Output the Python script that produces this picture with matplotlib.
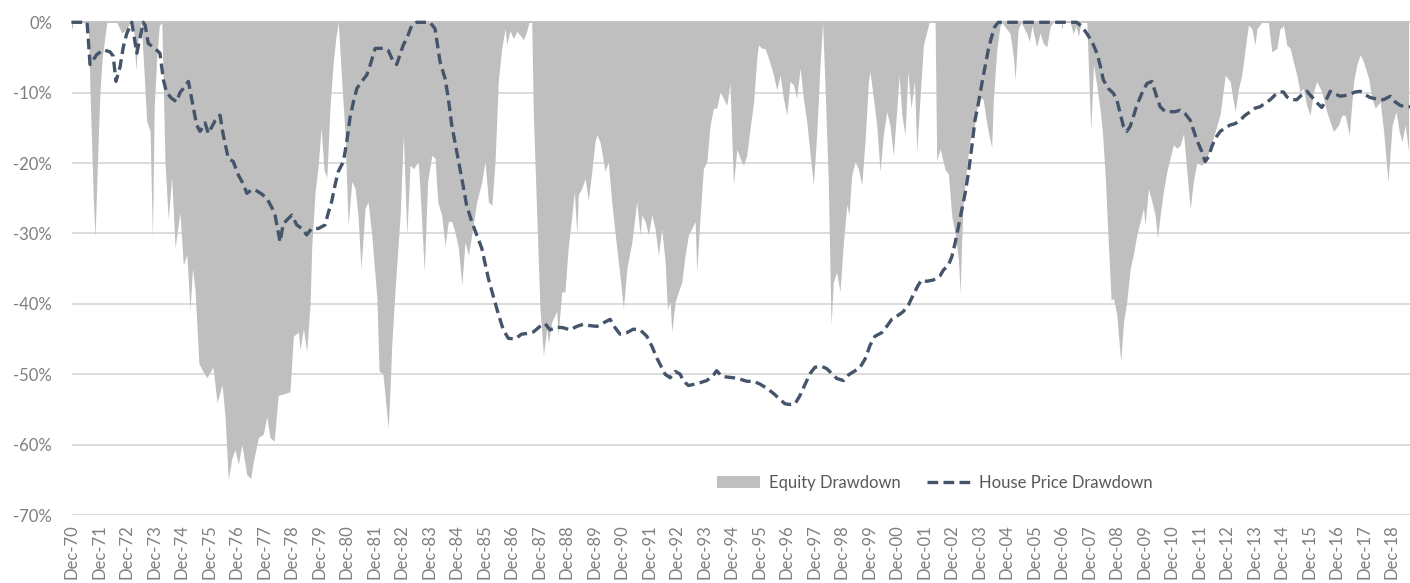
import matplotlib
matplotlib.use("Agg")
import matplotlib.pyplot as plt
from matplotlib.patches import Patch
from matplotlib.lines import Line2D

# x = months since Dec-1970, y = drawdown in %
eq_month = [0, 7.3, 8.1, 9.5, 10.3, 11.3, 12.4, 13.4, 14.6, 15.4, 19.7, 21.9, 24.1, 25.5, 27.0, 28.1, 29.1, 30.3,
            31.3, 32.8, 34.3, 35.3, 36.1, 37.2, 38.3, 39.4, 40.8, 42.2, 43.7, 45.2, 47.3, 48.8, 50.3, 51.7, 52.8,
            53.9, 55.6, 57.4, 59.1, 61.7, 63.5, 65.7, 67.0, 68.4, 69.9, 71.3, 72.8, 74.3, 76.5, 78.2, 79.3, 81.5,
            83.7, 85.2, 86.6, 88.4, 90.2, 92.4, 95.3, 96.8, 99.0, 99.7, 101.2, 102.6, 104.1, 104.8, 106.3, 107.6,
            108.9, 110.2, 111.4, 112.8, 114.1, 115.4, 116.4, 117.9, 119.3, 120.7, 122.3, 123.7, 125.0, 126.3,
            128.1, 129.4, 131.0, 133.2, 134.2, 135.9, 138.2, 139.0, 139.7, 141.2, 143.4, 144.8, 146.3, 147.7,
            149.2, 151.3, 152.5, 153.9, 155.4, 157.2, 158.6, 159.8, 161.5, 163.0, 164.4, 165.9, 167.3, 168.8,
            170.3, 171.7, 173.2, 174.6, 176.8, 179.0, 180.4, 181.9, 183.4, 184.8, 186.2, 187.7, 189.2, 189.9,
            191.3, 192.8, 194.3, 195.7, 197.2, 198.6, 199.6, 200.8, 201.5, 203.0, 204.4, 205.9, 207.4, 208.1,
            209.5, 211.7, 212.3, 213.9, 215.3, 216.7, 218.3, 219.4, 220.5, 221.1, 222.6, 224.1, 225.5, 227.0,
            228.4, 229.2, 230.6, 232.1, 232.8, 234.2, 235.7, 237.9, 239.3, 240.8, 242.3, 244.5, 246.6, 248.1,
            248.8, 250.3, 251.7, 253.2, 254.6, 256.1, 257.5, 259.0, 260.0, 261.2, 261.9, 263.4, 264.8, 266.3,
            267.7, 269.2, 270.6, 272.1, 272.8, 274.3, 275.7, 277.2, 278.6, 280.1, 281.5, 283.0, 284.4, 285.9,
            287.3, 288.8, 290.3, 291.7, 293.2, 294.6, 296.1, 297.6, 299.0, 299.7, 301.2, 302.6, 304.1, 306.3,
            307.7, 309.2, 310.6, 312.1, 313.5, 315.0, 316.4, 317.9, 319.3, 320.8, 322.3, 323.7, 325.2, 326.6,
            327.7, 328.7, 330.2, 331.4, 332.4, 333.8, 335.3, 336.8, 338.3, 339.2, 340.4, 341.9, 343.3, 344.8,
            346.2, 347.7, 348.4, 349.9, 351.3, 352.8, 354.2, 355.7, 357.1, 358.6, 360.1, 361.1, 362.3, 363.7,
            364.9, 366.3, 367.8, 368.8, 370.2, 371.7, 373.2, 374.2, 376.8, 377.5, 379.0, 381.2, 382.6, 384.1,
            385.5, 387.0, 387.7, 388.4, 389.1, 390.6, 392.0, 393.5, 394.9, 396.4, 397.8, 399.3, 400.7, 401.5,
            402.2, 403.7, 405.1, 405.9, 409.5, 411.0, 411.7, 413.0, 414.3, 416.8, 417.9, 419.1, 421.1, 422.6,
            424.0, 425.5, 427.0, 428.3, 435.7, 437.1, 438.3, 439.3, 440.5, 443.0, 443.7, 444.7, 445.9, 447.4,
            448.8, 449.8, 451.0, 452.4, 453.6, 454.6, 456.1, 456.8, 457.8, 459.0, 460.4, 461.9, 463.3, 464.8,
            466.3, 467.7, 468.4, 469.9, 471.4, 472.8, 473.8, 475.0, 476.4, 477.9, 479.3, 480.8, 482.2, 483.7,
            485.2, 486.6, 488.1, 489.5, 491.0, 493.2, 495.4, 496.8, 499.0, 501.2, 503.4, 505.5, 507.7, 509.2,
            510.6, 512.1, 513.5, 515.0, 516.4, 517.2, 519.3, 522.2, 523.7, 525.9, 527.3, 528.8, 530.2, 531.7,
            533.1, 534.6, 536.0, 537.5, 538.9, 540.4, 541.9, 543.3, 545.5, 547.7, 549.1, 550.6, 552.8, 554.3,
            555.7, 557.5, 559.4, 560.8, 562.3, 563.7, 565.9, 567.4, 568.8, 571.0, 572.5, 574.4, 576.2, 577.9,
            579.3, 580.5, 581.9, 583.4]
eq_drawdown = [0, 0, -10, -25, -30.5, -20, -10, -5, -2, 0, 0, -1.5, -1, 0, 0, -6.8, -2, 0,
               -5, -14, -15.5, -30.7, -12, -5, -0.5, 0, -19.8, -28, -22, -32, -27, -34.5, -33, -40.8, -35,
               -38, -48.5, -49.6, -50.5, -49, -54, -51.5, -56, -65, -62, -60.7, -62.8, -60, -64.3, -64.8, -62.5, -59,
               -58.5, -56, -59, -59.5, -53, -52.8, -52.5, -44.6, -44, -46.5, -43.5, -46.8, -40, -32, -24, -20.5,
               -15, -21, -22, -12, -6, -2, 0, -8.4, -15.5, -28.8, -22.6, -23.6, -27.4, -35,
               -26.4, -25.5, -30.2, -39, -49.5, -50, -57.7, -52, -46, -37.8, -27.4, -16, -30.2, -20.3,
               -20.8, -19.8, -26.4, -35.4, -22.6, -18.9, -19.3, -25.5, -27.4, -31.7, -28.3, -28.3, -29.8, -32.1,
               -37.3, -31.2, -33.1, -30.2, -25.5, -22.7, -19.8, -25.5, -26, -19.8, -8.4, -3.7, -0.9, -3.2,
               -1.2, -2.3, -1.3, -1.8, -2.5, -1.3, 0, 0, -13, -27.4, -40.7, -47.3, -43.5, -45.6,
               -42.6, -41, -44.5, -38.3, -38.3, -32.1, -27.4, -24.1, -30.2, -24.5, -23.6, -22.2, -25.3, -21.2,
               -17, -16, -17, -19.8, -21.2, -19.8, -25.5, -32.1, -36, -40.7, -35, -31.2, -25.5, -30.2,
               -27.4, -28.3, -30.2, -27.4, -29.3, -33.1, -29.3, -34, -40.7, -39.7, -44, -39.7, -38.3, -36.9,
               -33.1, -30.2, -29.3, -28.3, -35.5, -27.4, -20.8, -19.8, -14.6, -12.2, -12.2, -9.9, -10.8, -11.8,
               -8.7, -23.1, -18, -19.3, -20.3, -18.9, -15, -11.3, -5.1, -3.2, -3.7, -3.7, -5.1, -7.5,
               -9.6, -7.5, -10.8, -13.2, -8.4, -8.9, -10.8, -6.5, -10.8, -14.1, -18.9, -23.1, -15.5, -6,
               0, -8.4, -22.7, -43, -36.9, -35.5, -38.3, -31.2, -25.9, -27.4, -21.7, -19.8, -20.8, -23.1,
               -17, -8.4, -7, -10.8, -14.6, -21.2, -16, -12.7, -14.6, -18.9, -12.2, -7.5, -13.2, -16,
               -7, -12.2, -8.4, -18.4, -10.8, -3.2, -1.3, 0, 0, -19.6, -18, -21, -21.5, -27.6,
               -30, -33.8, -38.5, -31, -25.3, -20.5, -16.7, -15.8, -12.5, -10.6, -11, -14.3, -16.7, -17.7,
               -11, -3.9, -0.6, 0, -1.6, -5, -8.2, -1, 0, -1.6, -2.7, -0.5, -3.5, -1.5,
               -3, -3.5, -0.6, 0, 0, -1.6, -0.5, -2, 0, 0, -6.3, -15.4, -6, -9.1,
               -12.5, -15.5, -21.7, -31.5, -39.5, -39.2, -41.6, -44.5, -48.2, -42.6, -39.7, -35, -33, -30.2,
               -28.3, -26.4, -28.8, -23.6, -25.5, -27.4, -30.7, -27.4, -24, -21.2, -19.3, -17.4, -17.9, -17.5,
               -15.8, -21, -26.5, -22.5, -20, -20.3, -19.3, -17.8, -15.5, -13, -7.5, -8.4, -12.7, -9.4,
               -7.5, -3.7, -0.4, -0.9, -3.2, -0.9, 0, 0, -4.2, -3.7, -0.9, -0.4, -3.2, -3.7,
               -5.6, -7.5, -9.9, -9.4, -11.8, -13.2, -9.9, -8.4, -9.9, -12.7, -14.1, -15.5, -14.6, -13.2,
               -13.2, -16, -8.4, -6, -4.6, -5.6, -7.9, -10.8, -12.2, -11.3, -15.5, -22.7, -14.6, -12.7,
               -15.5, -17, -14.6, -18.4]

hp_month = [0, 5.1, 6.8, 8.1, 11.0, 13.9, 16.8, 18.2, 19.4, 21.2, 22.6, 24.1, 26.3, 28.5, 29.9, 31.3, 32.1,
            33.5, 36.4, 38.6, 40.1, 41.5, 43.7, 45.9, 47.3, 48.8, 51.0, 52.5, 54.6, 56.1, 58.3, 59.7, 62.6,
            64.8, 66.2, 68.4, 70.6, 72.8, 75.0, 76.5, 78.6, 80.1, 83.0, 85.2, 87.4, 88.8, 91.0, 92.4, 96.1,
            98.3, 100.5, 102.6, 104.8, 107.7, 110.6, 112.1, 113.5, 115.0, 116.4, 118.6, 120.1, 121.5, 123.0,
            124.5, 126.6, 128.8, 130.3, 132.5, 134.6, 136.1, 138.2, 140.4, 141.9, 143.3, 144.8, 146.3, 148.5,
            150.6, 156.4, 158.6, 160.8, 163.0, 164.4, 165.9, 168.1, 170.3, 172.4, 174.6, 176.8, 179.0, 181.9,
            184.1, 186.2, 188.4, 190.6, 193.5, 196.4, 199.3, 201.5, 204.4, 206.6, 208.8, 211.7, 214.6, 217.5,
            220.5, 223.3, 226.3, 229.2, 232.1, 235.0, 237.2, 239.3, 242.3, 245.1, 248.1, 251.0, 253.2, 255.4,
            256.8, 259.0, 261.2, 263.4, 265.6, 267.0, 269.2, 272.1, 274.3, 277.2, 280.1, 281.5, 283.7, 285.9,
            288.8, 291.7, 294.6, 297.5, 300.4, 303.4, 306.2, 309.2, 311.3, 313.5, 315.7, 317.9, 320.1, 322.3,
            324.4, 327.4, 329.5, 331.7, 333.9, 336.8, 339.0, 341.9, 344.1, 346.3, 348.4, 350.6, 353.5, 355.7,
            357.9, 360.8, 362.9, 365.1, 367.3, 369.5, 371.0, 373.2, 376.1, 379.0, 380.4, 382.6, 384.1, 385.5,
            387.0, 388.4, 389.9, 391.3, 392.8, 394.2, 395.7, 397.2, 398.6, 400.0, 401.5, 402.9, 404.4, 438.6,
            440.8, 443.0, 445.2, 447.4, 448.8, 450.2, 452.4, 454.6, 456.1, 457.5, 459.0, 460.4, 461.9, 463.3,
            464.8, 467.0, 469.2, 471.4, 473.5, 475.0, 477.2, 479.3, 481.5, 483.7, 485.9, 488.1, 489.5, 491.0,
            493.2, 494.6, 496.1, 497.5, 499.0, 501.2, 503.4, 505.5, 507.7, 509.9, 512.1, 514.3, 516.4, 518.6,
            520.8, 523.0, 525.2, 527.3, 528.8, 530.3, 532.4, 534.6, 536.8, 539.0, 541.2, 543.3, 545.5, 547.0,
            549.2, 551.4, 553.6, 555.7, 557.9, 560.1, 562.3, 564.5, 566.7, 569.6, 572.4, 575.4, 577.5, 579.7,
            581.9, 584.1]
hp_drawdown = [0, 0, 0, -6, -4.6, -3.9, -4.2, -4.8, -8.4, -6.3, -3.5, -1.6, 0, -4.4, -2.2, 0, -0.4,
               -3, -3.7, -4.4, -8.2, -10, -10.8, -11.3, -10, -9.4, -8.4, -11, -14.6, -15.5, -14.3, -15.8, -14,
               -13.2, -16, -19.3, -19.8, -21.7, -23, -24.3, -23.8, -23.8, -24.4, -25, -26.3, -27.4, -31.2, -28.6, -27.4,
               -28.8, -29.3, -30.2, -29.3, -29.3, -28.8, -27, -25.5, -23.1, -21.2, -19.8, -17, -13.6, -11.3,
               -9.4, -8.4, -7.5, -6.1, -3.7, -3.7, -3.7, -4, -5.6, -6, -4.6, -3.2, -2.3, -0.4,
               0, 0, -0.9, -5.6, -8, -10.8, -14.6, -18.4, -22.2, -26, -28.3, -30.2, -32.1, -36.4,
               -39, -41.4, -43.7, -44.9, -45, -44.3, -44.2, -44, -43.2, -42.8, -43.7, -43.3, -43.4, -43.7,
               -43.2, -42.9, -43.1, -43.2, -42.7, -42.2, -43.4, -44.3, -44.1, -43.6, -43.7, -44.6, -46, -47.7,
               -48.6, -50, -50.5, -49.6, -50, -51, -51.6, -51.4, -51.2, -50.9, -50.1, -49.5, -50.3, -50.4,
               -50.5, -50.7, -51, -51, -51.4, -52, -52.7, -53.6, -54.2, -54.3, -54.2, -53, -51.4, -49.9,
               -49, -48.9, -49.2, -49.9, -50.6, -50.9, -50.1, -49.5, -49, -47.8, -45.9, -44.6, -44.1, -43.2,
               -42.2, -41.6, -41.1, -40.2, -38.7, -37.3, -36.6, -36.8, -36.6, -36, -35.2, -34.5, -33.3, -31.4,
               -29, -26.7, -24.3, -21.5, -17.7, -13.9, -11.5, -8.7, -6.3, -3.9, -2, -0.6, 0, 0,
               -0.6, -1.6, -2.7, -4.4, -6.1, -8.2, -9.4, -10.1, -11, -12.9, -14.8, -15.5, -14.8, -13.4,
               -11.8, -10.1, -8.7, -8.4, -10.6, -12, -12.7, -12.7, -12.7, -12.5, -13, -13.9, -15.3, -16.7,
               -18.4, -19.8, -19.1, -17.7, -16.5, -15.5, -15, -14.6, -14.4, -13.9, -13.2, -12.7, -12.2, -12,
               -11.5, -11, -10.3, -9.9, -9.9, -10.6, -11, -11, -10.3, -9.8, -10.6, -11.4, -12.1, -11.3,
               -9.8, -10.2, -10.5, -10.4, -10.2, -9.9, -9.8, -10.3, -10.7, -10.9, -11, -10.5, -11.3, -11.8,
               -12, -12]

tick_months = list(range(0, 577, 12))
tick_labels = [f"Dec-{(70 + i) % 100:02d}" for i in range(len(tick_months))]
y_ticks = list(range(-70, 1, 10))
y_labels = [f"{v}%" for v in y_ticks]

FONT = ["Lato", "DejaVu Sans"]
plt.rcParams['font.family'] = FONT

W, H = 1410, 583
fig = plt.figure(figsize=(W / 100, H / 100), dpi=100)
x0, x1, ytop, ybot = 71.5, 1410, 22.3, 515
ax = fig.add_axes([x0 / W, 1 - ybot / H, (x1 - x0) / W, (ybot - ytop) / H])

ax.set_xlim(0, 584)
ax.set_ylim(-70, 0)

for v in y_ticks[:-1]:
    ax.axhline(v, color="#d9d9d9", lw=1.3, zorder=0)

ax.fill_between(eq_month, eq_drawdown, 0, color="#bfbfbf", lw=0, zorder=1)
ax.axhline(0, color="#bfbfbf", lw=1.3, zorder=2, clip_on=False)
ax.plot(hp_month, hp_drawdown, color="#44546a", lw=2.4, dashes=(3.2, 1.6),
        zorder=3, clip_on=False)

for s in ax.spines.values():
    s.set_visible(False)

ax.set_yticks(y_ticks)
ax.set_yticklabels(y_labels)
ax.set_xticks(tick_months)
ax.set_xticklabels(tick_labels, rotation=90, va="top", ha="center")
ax.tick_params(axis="y", length=0, pad=14, labelsize=12, labelcolor="#7f7f7f")
ax.tick_params(axis="x", bottom=False, top=True, direction="in", length=4,
               color="#bfbfbf", labelbottom=True, labeltop=False, pad=7,
               labelsize=12, labelcolor="#7f7f7f")

handles = [Patch(facecolor="#bfbfbf", edgecolor="none", label="Equity Drawdown"),
           Line2D([0], [0], color="#44546a", lw=2.4, dashes=(3.2, 1.6), label="House Price Drawdown")]
leg = ax.legend(handles=handles, loc="center", bbox_to_anchor=(0.645, 0.065), ncol=2,
                frameon=False, fontsize=12, handlelength=2.6, handletextpad=0.5,
                columnspacing=1.6, labelcolor="#595959")

fig.savefig("out.png", dpi=100, facecolor="white")
